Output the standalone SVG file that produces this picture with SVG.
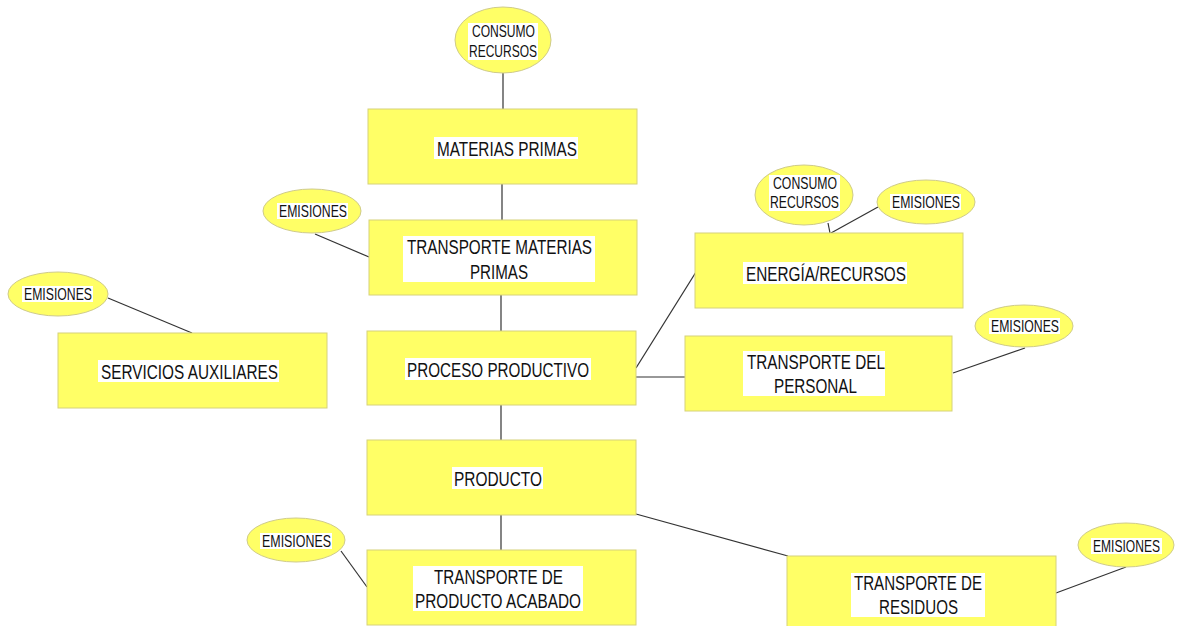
<svg xmlns="http://www.w3.org/2000/svg" width="1178" height="626" viewBox="0 0 1178 626">
<style>
.box{fill:#ffff66;stroke:#d6d27a;stroke-width:1}
.ell{fill:#ffff66;stroke:#cfcb8a;stroke-width:1}
.bg{fill:#ffffff}
.t{font-family:"Liberation Sans",Arial,sans-serif;fill:#111111;text-anchor:start}
.big{font-size:20.5px}
.sm{font-size:17px}
.c{stroke:#333333;stroke-width:1.2;fill:none}
</style>
<rect width="1178" height="626" fill="#ffffff"/>
<g id="connectors">
<line class="c" x1="503" y1="73" x2="503" y2="109"/>
<line class="c" x1="502" y1="184" x2="502" y2="220"/>
<line class="c" x1="501" y1="295" x2="501" y2="331"/>
<line class="c" x1="501" y1="405" x2="501" y2="440"/>
<line class="c" x1="501" y1="515" x2="501" y2="550"/>
<line class="c" x1="315" y1="234" x2="369" y2="257"/>
<line class="c" x1="108" y1="298" x2="192" y2="333"/>
<line class="c" x1="636" y1="368" x2="696" y2="272"/>
<line class="c" x1="636" y1="377" x2="685" y2="377"/>
<line class="c" x1="828" y1="223" x2="830" y2="233"/>
<line class="c" x1="878" y1="207" x2="831" y2="233"/>
<line class="c" x1="953" y1="373" x2="1025" y2="348"/>
<line class="c" x1="636" y1="514" x2="788" y2="556"/>
<line class="c" x1="1056" y1="593" x2="1126" y2="567"/>
<line class="c" x1="341" y1="551" x2="367" y2="587"/>
</g>
<g id="consumo1">
<ellipse class="ell" cx="503" cy="40" rx="48" ry="33"/>
<rect class="bg" x="468" y="23" width="70" height="37"/>
<text class="t sm" x="472" y="37" textLength="63" lengthAdjust="spacingAndGlyphs">CONSUMO</text>
<text class="t sm" x="469" y="57" textLength="68" lengthAdjust="spacingAndGlyphs">RECURSOS</text>
</g>
<g id="materias">
<rect class="box" x="368" y="109" width="269" height="75"/>
<rect class="bg" x="434" y="137" width="144" height="22"/>
<text class="t big" x="437" y="156" textLength="140" lengthAdjust="spacingAndGlyphs">MATERIAS PRIMAS</text>
</g>
<g id="emis-tmp">
<ellipse class="ell" cx="312" cy="211" rx="49" ry="22"/>
<rect class="bg" x="277" y="203" width="71" height="16"/>
<text class="t sm" x="279" y="217" textLength="68" lengthAdjust="spacingAndGlyphs">EMISIONES</text>
</g>
<g id="tmp">
<rect class="box" x="369" y="220" width="268" height="75"/>
<rect class="bg" x="403" y="236" width="192" height="46"/>
<text class="t big" x="407" y="254" textLength="185" lengthAdjust="spacingAndGlyphs">TRANSPORTE MATERIAS</text>
<text class="t big" x="470" y="279" textLength="58" lengthAdjust="spacingAndGlyphs">PRIMAS</text>
</g>
<g id="emis-serv">
<ellipse class="ell" cx="58" cy="294" rx="50" ry="22"/>
<rect class="bg" x="22" y="286" width="71" height="16"/>
<text class="t sm" x="24" y="300" textLength="68" lengthAdjust="spacingAndGlyphs">EMISIONES</text>
</g>
<g id="servicios">
<rect class="box" x="58" y="333" width="269" height="75"/>
<rect class="bg" x="98" y="360" width="181" height="22"/>
<text class="t big" x="101" y="379" textLength="177" lengthAdjust="spacingAndGlyphs">SERVICIOS AUXILIARES</text>
</g>
<g id="proceso">
<rect class="box" x="367" y="331" width="269" height="74"/>
<rect class="bg" x="405" y="358" width="186" height="22"/>
<text class="t big" x="407" y="377" textLength="182" lengthAdjust="spacingAndGlyphs">PROCESO PRODUCTIVO</text>
</g>
<g id="consumo2">
<ellipse class="ell" cx="804" cy="195" rx="49" ry="30"/>
<rect class="bg" x="769" y="175" width="71" height="36"/>
<text class="t sm" x="773" y="189" textLength="64" lengthAdjust="spacingAndGlyphs">CONSUMO</text>
<text class="t sm" x="770" y="208" textLength="69" lengthAdjust="spacingAndGlyphs">RECURSOS</text>
</g>
<g id="emis-energia">
<ellipse class="ell" cx="926" cy="202" rx="49" ry="22"/>
<rect class="bg" x="890" y="194" width="71" height="16"/>
<text class="t sm" x="892" y="208" textLength="68" lengthAdjust="spacingAndGlyphs">EMISIONES</text>
</g>
<g id="energia">
<rect class="box" x="695" y="233" width="268" height="75"/>
<rect class="bg" x="743" y="262" width="164" height="22"/>
<text class="t big" x="746" y="281" textLength="160" lengthAdjust="spacingAndGlyphs">ENERGÍA/RECURSOS</text>
</g>
<g id="emis-personal">
<ellipse class="ell" cx="1024" cy="326" rx="49" ry="21"/>
<rect class="bg" x="989" y="318" width="71" height="16"/>
<text class="t sm" x="991" y="332" textLength="68" lengthAdjust="spacingAndGlyphs">EMISIONES</text>
</g>
<g id="personal">
<rect class="box" x="685" y="336" width="267" height="75"/>
<rect class="bg" x="743" y="351" width="142" height="45"/>
<text class="t big" x="747" y="369" textLength="138" lengthAdjust="spacingAndGlyphs">TRANSPORTE DEL</text>
<text class="t big" x="774" y="393" textLength="83" lengthAdjust="spacingAndGlyphs">PERSONAL</text>
</g>
<g id="producto">
<rect class="box" x="367" y="440" width="269" height="75"/>
<rect class="bg" x="452" y="467" width="91" height="22"/>
<text class="t big" x="454" y="486" textLength="88" lengthAdjust="spacingAndGlyphs">PRODUCTO</text>
</g>
<g id="emis-tpa">
<ellipse class="ell" cx="296" cy="540" rx="49" ry="22"/>
<rect class="bg" x="260" y="533" width="72" height="16"/>
<text class="t sm" x="262" y="547" textLength="69" lengthAdjust="spacingAndGlyphs">EMISIONES</text>
</g>
<g id="tpa">
<rect class="box" x="367" y="550" width="269" height="75"/>
<rect class="bg" x="413" y="566" width="170" height="45"/>
<text class="t big" x="434" y="584" textLength="129" lengthAdjust="spacingAndGlyphs">TRANSPORTE DE</text>
<text class="t big" x="415" y="608" textLength="166" lengthAdjust="spacingAndGlyphs">PRODUCTO ACABADO</text>
</g>
<g id="emis-residuos">
<ellipse class="ell" cx="1126" cy="545" rx="48" ry="22"/>
<rect class="bg" x="1091" y="538" width="71" height="16"/>
<text class="t sm" x="1093" y="552" textLength="67" lengthAdjust="spacingAndGlyphs">EMISIONES</text>
</g>
<g id="residuos">
<rect class="box" x="787" y="556" width="269" height="75"/>
<rect class="bg" x="851" y="573" width="134" height="44"/>
<text class="t big" x="854" y="590" textLength="128" lengthAdjust="spacingAndGlyphs">TRANSPORTE DE</text>
<text class="t big" x="879" y="614" textLength="79" lengthAdjust="spacingAndGlyphs">RESIDUOS</text>
</g>
</svg>
